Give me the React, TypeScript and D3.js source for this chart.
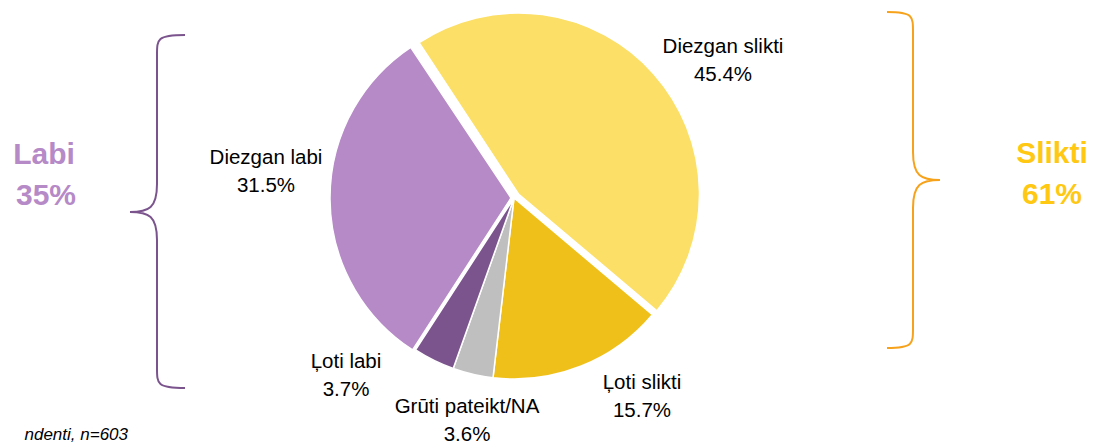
import { useMemo } from 'react'
import * as d3 from 'd3'

// slice data, in drawing order (clockwise from the upper left)
const categories = ['Diezgan slikti', 'Ļoti slikti', 'Grūti pateikt/NA', 'Ļoti labi', 'Diezgan labi']
const values = [45.4, 15.7, 3.6, 3.7, 31.5]
const sliceColors = ['#FBDF66', '#F0C01A', '#BFBFBF', '#7B548D', '#B689C7']
const explode = [6, 0, 0, 0, 3]

// where each label sits (centre of the two-line block), same order as categories
const labelPos: [number, number][] = [
  [723, 62],
  [642, 398],
  [467, 422],
  [346, 377],
  [266, 173],
]

const groupLabels = ['Labi', 'Slikti']
const groupValues = ['35%', '61%']

const W = 1096
const H = 446
const cx = 514
const cy = 198
const R = 181

function bracePath(xEnd: number, xSpine: number, xTip: number, y0: number, y1: number, yTip: number) {
  const k1 = 20
  const k2 = 28
  return [
    `M${xEnd},${y0}`,
    `C${xSpine},${y0} ${xSpine},${y0 + 4} ${xSpine},${y0 + k1}`,
    `L${xSpine},${yTip - k2}`,
    `C${xSpine},${yTip - 4} ${xSpine + (xTip - xSpine) * 0.3},${yTip} ${xTip},${yTip}`,
    `C${xSpine + (xTip - xSpine) * 0.3},${yTip} ${xSpine},${yTip + 4} ${xSpine},${yTip + k2}`,
    `L${xSpine},${y1 - k1}`,
    `C${xSpine},${y1 - 4} ${xSpine},${y1} ${xEnd},${y1}`,
  ].join(' ')
}

export default function App() {
  const arcs = useMemo(() => {
    const pie = d3.pie<number>()
      .sort(null)
      .value((d) => d)
      .startAngle(-33.3 * Math.PI / 180)
      .endAngle(-33.3 * Math.PI / 180 + 2 * Math.PI * (d3.sum(values) / 100))
    return pie(values)
  }, [])

  const arc = d3.arc<d3.PieArcDatum<number>>().innerRadius(0).outerRadius(R)
  const font = 'Arial, "Liberation Sans", Helvetica, sans-serif'

  return (
    <div style={{ position: 'absolute', left: 0, top: 0 }}>
      <svg width={W} height={H} style={{ display: 'block', background: '#fff' }}>
        {/* slices */}
        <g transform={`translate(${cx},${cy})`}>
          {arcs.map((a, i) => {
            const mid = (a.startAngle + a.endAngle) / 2
            const dx = Math.sin(mid) * explode[i]
            const dy = -Math.cos(mid) * explode[i]
            return (
              <path
                key={categories[i]}
                d={arc(a) || ''}
                transform={`translate(${dx},${dy})`}
                fill={sliceColors[i]}
                stroke="#fff"
                strokeWidth={1.5}
                strokeLinejoin="round"
              />
            )
          })}
        </g>

        {/* slice labels */}
        {categories.map((c, i) => (
          <text
            key={c}
            x={labelPos[i][0]}
            y={labelPos[i][1]}
            textAnchor="middle"
            fontFamily={font}
            fontSize={20.5}
            fill="#000"
          >
            <tspan x={labelPos[i][0]} dy="-0.45em">{c}</tspan>
            <tspan x={labelPos[i][0]} dy="1.4em">{values[i].toFixed(1)}%</tspan>
          </text>
        ))}

        {/* braces */}
        <path d={bracePath(185, 157, 130, 35, 388, 212)} fill="none" stroke="#7B548D" strokeWidth={2} />
        <path d={bracePath(887, 913, 940, 12, 348, 180)} fill="none" stroke="#F7A21B" strokeWidth={2} />

        {/* group totals */}
        <text x={44} y={164} textAnchor="middle" fontFamily={font} fontWeight="bold" fontSize={30} fill="#B689C7">{groupLabels[0]}</text>
        <text x={46} y={205} textAnchor="middle" fontFamily={font} fontWeight="bold" fontSize={30} fill="#B689C7">{groupValues[0]}</text>
        <text x={1052} y={163} textAnchor="middle" fontFamily={font} fontWeight="bold" fontSize={30} fill="#FFC812">{groupLabels[1]}</text>
        <text x={1052} y={204} textAnchor="middle" fontFamily={font} fontWeight="bold" fontSize={30} fill="#FFC812">{groupValues[1]}</text>

        {/* footnote: only the part visible in the source */}
        <text x={128} y={440} textAnchor="end" fontFamily={font} fontStyle="italic" fontSize={17} fill="#000">ndenti, n=603</text>
      </svg>
    </div>
  )
}
